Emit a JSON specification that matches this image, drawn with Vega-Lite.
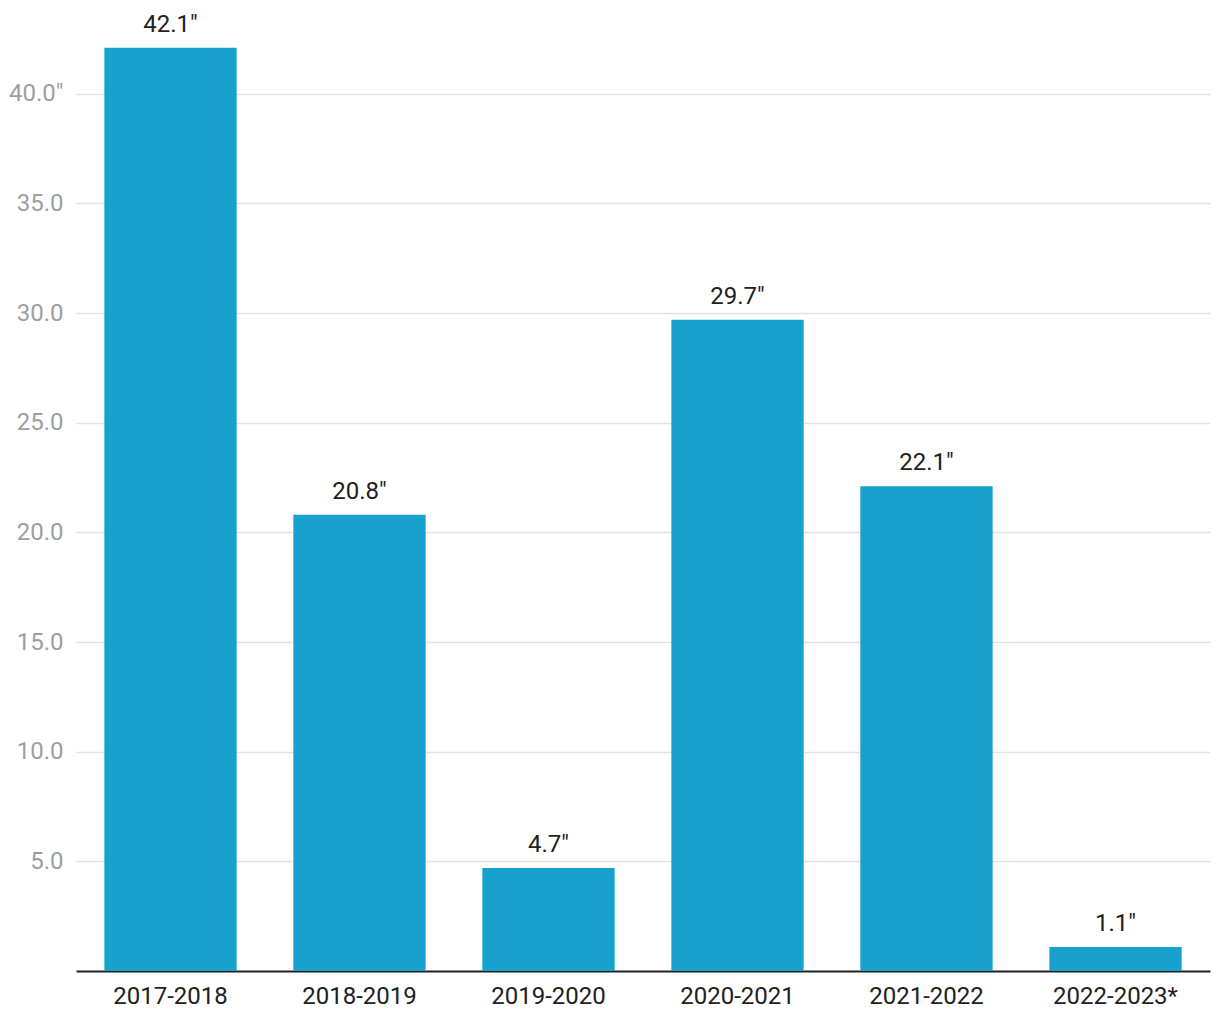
{
  "$schema": "https://vega.github.io/schema/vega-lite/v6.json",
  "width": 1134,
  "height": 965,
  "autosize": {"type": "none"},
  "padding": {"left": 76, "top": 6, "right": 10, "bottom": 49},
  "background": "white",
  "config": {
    "view": {"stroke": null},
    "font": "Roboto"
  },
  "data": {
    "values": [
      {"season": "2017-2018", "snow": 42.1},
      {"season": "2018-2019", "snow": 20.8},
      {"season": "2019-2020", "snow": 4.7},
      {"season": "2020-2021", "snow": 29.7},
      {"season": "2021-2022", "snow": 22.1},
      {"season": "2022-2023*", "snow": 1.1}
    ]
  },
  "encoding": {
    "x": {
      "field": "season",
      "type": "nominal",
      "sort": null,
      "scale": {"paddingInner": 0.3, "paddingOuter": 0.15},
      "axis": {
        "title": null,
        "labelAngle": 0,
        "ticks": false,
        "labelPadding": 13,
        "labelFont": "Roboto",
        "labelFontSize": 24,
        "labelColor": "#212121",
        "domainColor": "#212121",
        "domainWidth": 2,
        "grid": false
      }
    },
    "y": {
      "field": "snow",
      "type": "quantitative",
      "scale": {"domain": [0, 44], "nice": false},
      "axis": {
        "title": null,
        "values": [5, 10, 15, 20, 25, 30, 35, 40],
        "labelExpr": "datum.value == 40 ? '40.0\"' : format(datum.value, '.1f')",
        "domain": false,
        "ticks": false,
        "labelPadding": 13,
        "labelFont": "Roboto",
        "labelFontSize": 24,
        "labelColor": "#9e9e9e",
        "gridColor": "#e2e2e2",
        "gridWidth": 1.5
      }
    }
  },
  "layer": [
    {"mark": {"type": "bar", "color": "#18A1CD"}},
    {
      "transform": [{"calculate": "format(datum.snow, '.1f') + '\"'", "as": "label"}],
      "mark": {
        "type": "text",
        "baseline": "alphabetic",
        "dy": -16,
        "font": "Roboto",
        "fontSize": 24,
        "color": "#212121"
      },
      "encoding": {
        "text": {"field": "label", "type": "nominal"}
      }
    }
  ]
}
